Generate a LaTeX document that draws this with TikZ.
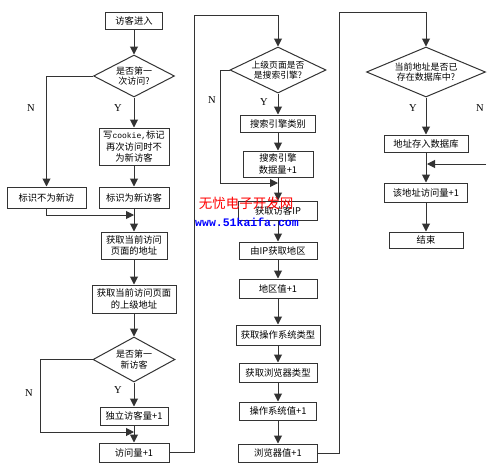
\documentclass[tikz,border=0pt]{standalone}
\usepackage{fontspec}
\setmainfont{Liberation Serif}
\newfontfamily\cjk{Noto Sans CJK SC}
\newfontfamily\monofont{Liberation Mono}
\usetikzlibrary{arrows.meta,shapes.geometric}
\begin{document}
\begin{tikzpicture}[x=1pt,y=-1pt,
  box/.style={draw=black!80, line width=1pt, inner sep=0pt, align=center,
    font=\cjk\fontsize{9.3}{11.5}\selectfont, fill=white},
  dia/.style={draw=black!80, line width=1pt, shape=diamond, inner sep=0pt, align=center,
    font=\cjk\fontsize{9}{10.5}\selectfont, fill=white},
  conn/.style={draw=black!80, line width=1pt},
  arr/.style={conn, -{Triangle[length=8pt,width=8pt]}},
  yn/.style={font=\fontsize{10.5}{12}\selectfont, inner sep=0pt}
]
\useasboundingbox (0,0) rectangle (496,469);
\fill[white] (0,0) rectangle (496,469);

% column 1
\node[box, minimum width=57, minimum height=17] (start) at (134,20.5) {访客进入};
\node[dia, aspect=1.93, minimum width=81, minimum height=42] (d1) at (134,76) {是否第一\\次访问?};
\node[box, minimum width=70, minimum height=37] (cookie) at (134,146.5) {写{\monofont\fontsize{8}{11}\selectfont cookie,}标记\\再次访问时不\\为新访客};
\node[box, minimum width=70, minimum height=21] (newv) at (134,197.5) {标识为新访客};
\node[box, minimum width=79, minimum height=21] (notnew) at (46.5,197.5) {标识不为新访};
\node[box, minimum width=66, minimum height=27] (getaddr) at (134,245.5) {获取当前访问\\页面的地址};
\node[box, minimum width=84, minimum height=28] (getref) at (134,299) {获取当前访问页面\\的上级地址};
\node[dia, aspect=1.82, minimum width=82, minimum height=45] (d2) at (134,359.5) {是否第一\\新访客};
\node[box, minimum width=68, minimum height=18] (indep) at (134,416) {独立访客量+1};
\node[box, minimum width=70, minimum height=19] (visit) at (134,452.5) {访问量+1};

% column 2
\node[dia, aspect=2.09, minimum width=96, minimum height=46, font=\cjk\fontsize{8.8}{10.2}\selectfont] (d3) at (278,70) {上级页面是否\\是搜索引擎?};
\node[box, minimum width=75, minimum height=17] (setype) at (278,123.5) {搜索引擎类别};
\node[box, minimum width=70, minimum height=26] (sedata) at (278,164) {搜索引擎\\数据量+1};
\node[box, minimum width=79, minimum height=19] (getip) at (278,210.5) {获取访客IP};
\node[box, minimum width=78, minimum height=17] (ip2region) at (278,250.5) {由IP获取地区};
\node[box, minimum width=78, minimum height=19] (region) at (278,288.5) {地区值+1};
\node[box, minimum width=84, minimum height=20] (os) at (278,335) {获取操作系统类型};
\node[box, minimum width=78, minimum height=19] (browser) at (278,372.5) {获取浏览器类型};
\node[box, minimum width=77, minimum height=18] (osval) at (278,411) {操作系统值+1};
\node[box, minimum width=79, minimum height=18] (brval) at (278,453) {浏览器值+1};

% column 3
\node[dia, aspect=2.38, minimum width=119, minimum height=50] (d4) at (426,72) {当前地址是否已\\存在数据库中?};
\node[box, minimum width=84, minimum height=17] (store) at (426,143.5) {地址存入数据库};
\node[box, minimum width=83, minimum height=19] (count) at (426,192.5) {该地址访问量+1};
\node[box, minimum width=74, minimum height=16] (end) at (426,240) {结束};

% coordinates
\coordinate (m1) at (134,215);
\coordinate (m2) at (134,432);
\coordinate (m3) at (278,183);
\coordinate (m4) at (426,164);
\coordinate (n4) at (486,164);
\coordinate (loopA) at (194,15);
\coordinate (loopB) at (339,12);

% connectors column 1
\draw[arr] (start) -- (d1);
\draw[arr] (d1.west) -| (notnew.north);
\draw[arr] (d1) -- (cookie);
\draw[arr] (cookie) -- (newv);
\draw[arr] (notnew.south) |- (m1);
\draw[arr] (newv) -- (getaddr);
\draw[arr] (getaddr) -- (getref);
\draw[arr] (getref) -- (d2);
\draw[arr] (d2.west) -- ++(-52,0) |- (m2);
\draw[arr] (d2) -- (indep);
\draw[arr] (indep) -- (visit);
\draw[arr] (visit.east) -| (loopA) -| (d3.north);

% connectors column 2
\draw[arr] (d3) -- (setype);
\draw[arr] (setype) -- (sedata);
\draw[arr] (d3.west) -- ++(-9,0) |- (m3);
\draw[arr] (sedata) -- (getip);
\draw[arr] (getip) -- (ip2region);
\draw[arr] (ip2region) -- (region);
\draw[arr] (region) -- (os);
\draw[arr] (os) -- (browser);
\draw[arr] (browser) -- (osval);
\draw[arr] (osval) -- (brval);
\draw[arr] (brval.east) -| (loopB) -| (d4.north);

% connectors column 3
\draw[arr] (d4) -- (store);
\draw[arr] (store) -- (count);
\draw[arr] (n4) -- ([xshift=1]m4);
\draw[arr] (count) -- (end);

% Y / N labels
\node[yn] (n1) at (31,108) {N};
\node[yn] (y1) at (118,108) {Y};
\node[yn] (n2) at (29,393) {N};
\node[yn] (y2) at (118,390) {Y};
\node[yn] (n3) at (212,100) {N};
\node[yn] (y3) at (264,102) {Y};
\node[yn] (y4) at (413,108) {Y};
\node[yn] (n5) at (480,108) {N};

% watermark
\node[text=red, font=\cjk\fontsize{13.5}{14}\selectfont, inner sep=0pt] (wm1) at (246,203) {无忧电子开发网};
\node[text=blue, font=\monofont\bfseries\fontsize{11.5}{12}\selectfont, inner sep=0pt] (wm2) at (247,222) {www.51kaifa.com};
\end{tikzpicture}
\end{document}
